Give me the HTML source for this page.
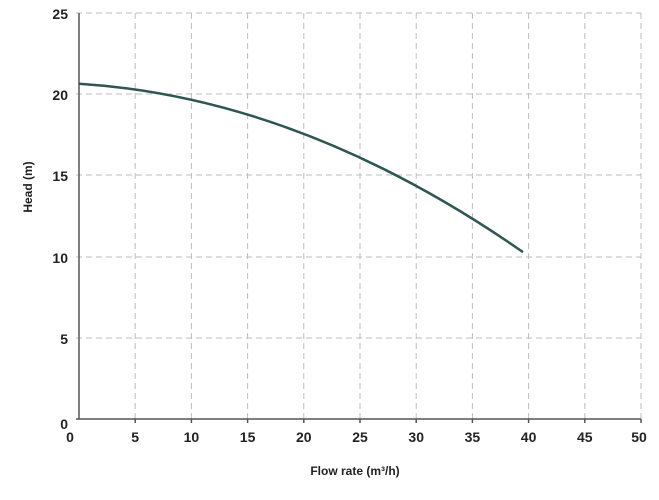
<!DOCTYPE html>
<html><head><meta charset="utf-8"><style>
body{margin:0;background:#fff;}
svg{display:block;font-family:"Liberation Sans",sans-serif;}
</style></head><body>
<svg width="659" height="500" viewBox="0 0 659 500">
<g stroke="#bdbdbd" stroke-width="1" stroke-dasharray="6,4" fill="none">
<line x1="135.2" y1="13" x2="135.2" y2="419"/>
<line x1="191.4" y1="13" x2="191.4" y2="419"/>
<line x1="247.6" y1="13" x2="247.6" y2="419"/>
<line x1="303.8" y1="13" x2="303.8" y2="419"/>
<line x1="360" y1="13" x2="360" y2="419"/>
<line x1="416.2" y1="13" x2="416.2" y2="419"/>
<line x1="472.4" y1="13" x2="472.4" y2="419"/>
<line x1="528.6" y1="13" x2="528.6" y2="419"/>
<line x1="584.8" y1="13" x2="584.8" y2="419"/>
<line x1="641" y1="13" x2="641" y2="419"/>
<line x1="76" y1="13" x2="641" y2="13"/>
<line x1="76" y1="94" x2="641" y2="94"/>
<line x1="76" y1="175" x2="641" y2="175"/>
<line x1="76" y1="257" x2="641" y2="257"/>
<line x1="76" y1="338" x2="641" y2="338"/>
</g>
<g stroke="#555" stroke-width="1.5">
<line x1="79" y1="13" x2="79" y2="419"/>
<line x1="76" y1="419" x2="641" y2="419"/>
<line x1="135.2" y1="419" x2="135.2" y2="423"/>
<line x1="191.4" y1="419" x2="191.4" y2="423"/>
<line x1="247.6" y1="419" x2="247.6" y2="423"/>
<line x1="303.8" y1="419" x2="303.8" y2="423"/>
<line x1="360" y1="419" x2="360" y2="423"/>
<line x1="416.2" y1="419" x2="416.2" y2="423"/>
<line x1="472.4" y1="419" x2="472.4" y2="423"/>
<line x1="528.6" y1="419" x2="528.6" y2="423"/>
<line x1="584.8" y1="419" x2="584.8" y2="423"/>
<line x1="641" y1="419" x2="641" y2="423"/>
</g>
<path d="M79,83.7 Q301,97.7 523,252.1" fill="none" stroke="#2f5652" stroke-width="2.5"/>
<g font-size="14" font-weight="bold" fill="#222" text-anchor="end">
<text x="68" y="19">25</text>
<text x="68" y="100">20</text>
<text x="68" y="181">15</text>
<text x="68" y="263">10</text>
<text x="68" y="344">5</text>
<text x="68" y="429">0</text>
</g>
<g font-size="14" font-weight="bold" fill="#222" text-anchor="middle">
<text x="70" y="442">0</text>
<text x="135.2" y="442">5</text>
<text x="191.4" y="442">10</text>
<text x="247.6" y="442">15</text>
<text x="303.8" y="442">20</text>
<text x="360" y="442">25</text>
<text x="416.2" y="442">30</text>
<text x="472.4" y="442">35</text>
<text x="528.6" y="442">40</text>
<text x="584.8" y="442">45</text>
<text x="639" y="442">50</text>
</g>
<text x="355" y="475" font-size="12" font-weight="bold" fill="#222" text-anchor="middle">Flow rate (m³/h)</text>
<text transform="translate(32,187) rotate(-90)" font-size="12" font-weight="bold" fill="#222" text-anchor="middle">Head (m)</text>
</svg>
</body></html>
